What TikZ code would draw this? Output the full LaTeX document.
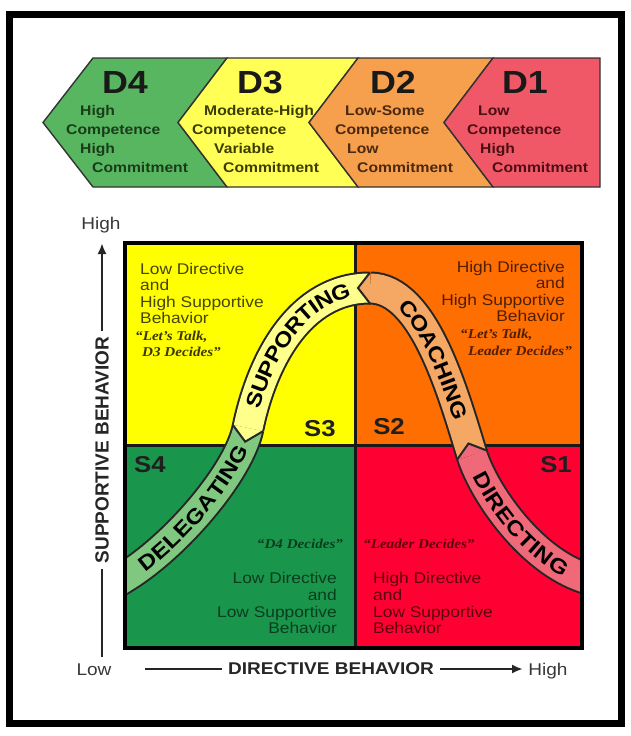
\documentclass[tikz,border=0pt]{standalone}
\usepackage{fontspec}
\setmainfont{Liberation Sans}
\newfontfamily\fontStr[FakeStretch=1.12]{Liberation Sans}
\newfontfamily\fontBandFam[FakeStretch=1.15]{Liberation Sans}
\newfontfamily\fontSer[FakeStretch=1.12]{Liberation Serif}
\newfontfamily\fontPlain{Liberation Sans}
\newcommand\fontBand{\fontBandFam\fontsize{21}{21}\selectfont\bfseries}
\usetikzlibrary{arrows.meta,decorations.text}
\definecolor{cDfour}{RGB}{88,182,96}
\definecolor{cDthree}{RGB}{255,255,85}
\definecolor{cDtwo}{RGB}{246,160,78}
\definecolor{cDone}{RGB}{240,88,104}
\definecolor{qY}{RGB}{255,255,0}
\definecolor{qO}{RGB}{255,110,0}
\definecolor{qG}{RGB}{26,150,76}
\definecolor{qR}{RGB}{255,0,50}
\definecolor{bG}{RGB}{128,200,128}
\definecolor{bY}{RGB}{255,255,140}
\definecolor{bO}{RGB}{245,168,100}
\definecolor{bP}{RGB}{240,105,120}
\definecolor{tDfour}{RGB}{25,60,25}
\definecolor{tDthree}{RGB}{60,60,0}
\definecolor{tDtwo}{RGB}{75,40,15}
\definecolor{tDone}{RGB}{75,15,20}
\definecolor{tqY}{RGB}{70,70,0}
\definecolor{tqO}{RGB}{80,30,0}
\definecolor{tqG}{RGB}{10,60,30}
\definecolor{tqR}{RGB}{95,0,15}
\tikzset{
 chev/.style={draw=black!80, line width=1.4pt, line join=miter},
 dlab/.style={anchor=base, inner sep=0pt, font=\fontStr\fontsize{32}{32}\selectfont\bfseries, text=black!90},
 chsub/.style={anchor=base west, inner sep=0pt, font=\fontStr\fontsize{14}{15}\selectfont\bfseries},
 qtl/.style={anchor=base west, inner sep=0pt, font=\fontStr\fontsize{15.5}{16}\selectfont},
 qtr/.style={anchor=base east, inner sep=0pt, font=\fontStr\fontsize{15.5}{16}\selectfont},
 itq/.style={inner sep=0pt, font=\fontSer\fontsize{13.5}{14}\selectfont\bfseries\itshape},
 slab/.style={inner sep=0pt, font=\fontStr\fontsize{23}{23}\selectfont\bfseries, text=black!88},
 axlab/.style={anchor=base, inner sep=0pt, font=\fontStr\fontsize{17}{17}\selectfont, text=black!78},
 axtitle/.style={inner sep=5pt, text=black!85},
 axline/.style={line width=2.5pt, black!85},
 bandout/.style={line width=33pt, black!85},
 bandin/.style={line width=29pt},
 headedge/.style={line width=2pt, black!85, line join=miter},
 bandtext/.style={decorate, decoration={text along path, text align=center, raise=-7.5pt}},
}
\begin{document}
\begin{tikzpicture}[x=1pt,y=-1pt]
\useasboundingbox (0,0) rectangle (631,736);
\fill[white] (0,0) rectangle (631,736);
\draw[line width=7pt] (9.5,14.5) rectangle (621.5,723.5);

% ---- development chevrons
\filldraw[chev, fill=cDfour] (43,122.5) -- (93,58) -- (227,58) -- (178,122.5) -- (227,187) -- (93,187) -- cycle;
\filldraw[chev, fill=cDthree] (178,122.5) -- (227,58) -- (358,58) -- (309,122.5) -- (358,187) -- (227,187) -- cycle;
\filldraw[chev, fill=cDtwo] (309,122.5) -- (358,58) -- (493,58) -- (444,122.5) -- (493,187) -- (358,187) -- cycle;
\filldraw[chev, fill=cDone] (444,122.5) -- (493,58) -- (600,58) -- (600,187) -- (493,187) -- cycle;

\node[dlab] (d4) at (125,93) {D4};
\node[dlab] (d3) at (260,93) {D3};
\node[dlab] (d2) at (393,93) {D2};
\node[dlab] (d1) at (525,93) {D1};

\node[chsub, text=tDfour] (d4a) at (80,115) {High};
\node[chsub, text=tDfour] (d4b) at (66,134) {Competence};
\node[chsub, text=tDfour] (d4c) at (80,153) {High};
\node[chsub, text=tDfour] (d4d) at (92,172) {Commitment};

\node[chsub, text=tDthree] (d3a) at (204,115) {Moderate-High};
\node[chsub, text=tDthree] (d3b) at (192,134) {Competence};
\node[chsub, text=tDthree] (d3c) at (214,153) {Variable};
\node[chsub, text=tDthree] (d3d) at (223,172) {Commitment};

\node[chsub, text=tDtwo] (d2a) at (345,115) {Low-Some};
\node[chsub, text=tDtwo] (d2b) at (335,134) {Competence};
\node[chsub, text=tDtwo] (d2c) at (347,153) {Low};
\node[chsub, text=tDtwo] (d2d) at (357,172) {Commitment};

\node[chsub, text=tDone] (d1a) at (478,115) {Low};
\node[chsub, text=tDone] (d1b) at (467,134) {Competence};
\node[chsub, text=tDone] (d1c) at (480,153) {High};
\node[chsub, text=tDone] (d1d) at (492,172) {Commitment};

% ---- quadrants
\fill[qY] (125,243) rectangle (355,445);
\fill[qO] (355,243) rectangle (582,445);
\fill[qG] (125,445) rectangle (355,648);
\fill[qR] (355,445) rectangle (582,648);
\draw[line width=3pt, black!90] (355,243) -- (355,648);
\draw[line width=3pt, black!90] (125,445) -- (582,445);

% S3 text
\node[qtl, text=tqY] (s3a) at (140,274) {Low Directive};
\node[qtl, text=tqY] (s3b) at (140,290.5) {and};
\node[qtl, text=tqY] (s3c) at (140,307) {High Supportive};
\node[qtl, text=tqY] (s3d) at (140,323.5) {Behavior};
\node[itq, anchor=base west, text=tqY!80!black] (s3e) at (135,340) {“Let’s Talk,};
\node[itq, anchor=base west, text=tqY!80!black] (s3f) at (142,356) {D3 Decides”};
% S2 text
\node[qtr, text=tqO] (s2a) at (565,272) {High Directive};
\node[qtr, text=tqO] (s2b) at (565,288.5) {and};
\node[qtr, text=tqO] (s2c) at (565,305) {High Supportive};
\node[qtr, text=tqO] (s2d) at (565,321) {Behavior};
\node[itq, anchor=base west, text=tqO] (s2e) at (460,338) {“Let’s Talk,};
\node[itq, anchor=base west, text=tqO] (s2f) at (468,355) {Leader Decides”};
% S4 text
\node[itq, anchor=base, text=tqG] (s4e) at (300,548) {“D4 Decides”};
\node[qtr, text=tqG] (s4a) at (337,583) {Low Directive};
\node[qtr, text=tqG] (s4b) at (337,600) {and};
\node[qtr, text=tqG] (s4c) at (337,617) {Low Supportive};
\node[qtr, text=tqG] (s4d) at (337,633) {Behavior};
% S1 text
\node[itq, anchor=base west, text=tqR] (s1e) at (363,548) {“Leader Decides”};
\node[qtl, text=tqR] (s1a) at (373,583) {High Directive};
\node[qtl, text=tqR] (s1b) at (373,600) {and};
\node[qtl, text=tqR] (s1c) at (373,617) {Low Supportive};
\node[qtl, text=tqR] (s1d) at (373,633) {Behavior};

\node[slab] (S3) at (320,428.5) {S3};
\node[slab] (S2) at (389,427) {S2};
\node[slab] (S4) at (150,465) {S4};
\node[slab] (S1) at (556,465) {S1};

% ---- leadership curve
\coordinate (G0) at (125,577);
\coordinate (J1) at (248,428);
\coordinate (J2) at (370,288);
\coordinate (J3) at (472,455);
\coordinate (P4) at (585,578);
\begin{scope}
\clip (125,243) rectangle (582,648);
% delegating
\draw[bandout] (108,587.5) -- (G0) .. controls (177,545) and (239,472) .. (J1);
\draw[bandin, bG] (108,587.5) -- (G0) .. controls (177,545) and (239,472) .. (J1);
% supporting
\draw[bandout] (J1) .. controls (262,360) and (300,288) .. (J2);
\draw[bandin, bY] (J1) .. controls (262,360) and (300,288) .. (J2);
\fill[bY] (263.2,431.1) -- (245.2,441.7) -- (232.8,424.9) -- cycle;
\draw[headedge] (263.2,431.1) -- (245.2,441.7) -- (232.8,424.9);
% coaching
\draw[bandout] (J2) .. controls (424,288) and (453,393) .. (J3);
\draw[bandin, bO] (J2) .. controls (424,288) and (453,393) .. (J3);
\fill[bO] (370,272.5) -- (358,288) -- (370,303.5) -- cycle;
\draw[headedge] (370,272.5) -- (358,288) -- (370,303.5);
% directing
\draw[bandout] (J3) .. controls (484,493) and (530,560) .. (P4) -- (605,584.5);
\draw[bandin, bP] (J3) .. controls (484,493) and (530,560) .. (P4) -- (605,584.5);
\fill[bP] (486.8,450.5) -- (468.5,443.5) -- (457.2,459.5) -- cycle;
\draw[headedge] (486.8,450.5) -- (468.5,443.5) -- (457.2,459.5);
\end{scope}
\path[bandtext, decoration={text={|\fontBand|DELEGATING}}] (G0) .. controls (177,545) and (239,472) .. (J1);
\path[bandtext, decoration={text={|\fontBand|SUPPORTING}}] (J1) .. controls (262,360) and (300,288) .. (J2);
\path[bandtext, decoration={text={|\fontBand|COACHING}}] (J2) .. controls (424,288) and (453,393) .. (J3);
\path[bandtext, decoration={text={|\fontBand|DIRECTING}}] (J3) .. controls (484,493) and (530,560) .. (P4);

\draw[line width=4pt] (125,243) rectangle (582,648);

% ---- axes
\node[axlab] (yhigh) at (101,229) {High};
\node[axtitle, rotate=90, font=\fontPlain\fontsize{19}{19}\selectfont\bfseries] (ylab) at (102,450) {SUPPORTIVE BEHAVIOR};
\coordinate (ybot) at (102,657);
\coordinate (ytop) at (102,243);
\draw[axline] (ybot) -- (ylab.west);
\draw[axline, -{Latex[length=11pt,width=9pt]}] (ylab.east) -- (ytop);

\node[axlab] (xlow) at (94,675) {Low};
\node[axlab] (xhigh) at (548,675) {High};
\node[axtitle, inner sep=6pt, font=\fontStr\fontsize{17}{17}\selectfont\bfseries] (xlab) at (331,669) {DIRECTIVE BEHAVIOR};
\coordinate (xleft) at (145,669);
\coordinate (xright) at (523,669);
\draw[axline] (xleft) -- (xlab.west);
\draw[axline, -{Latex[length=11pt,width=9pt]}] (xlab.east) -- (xright);
\end{tikzpicture}
\end{document}
